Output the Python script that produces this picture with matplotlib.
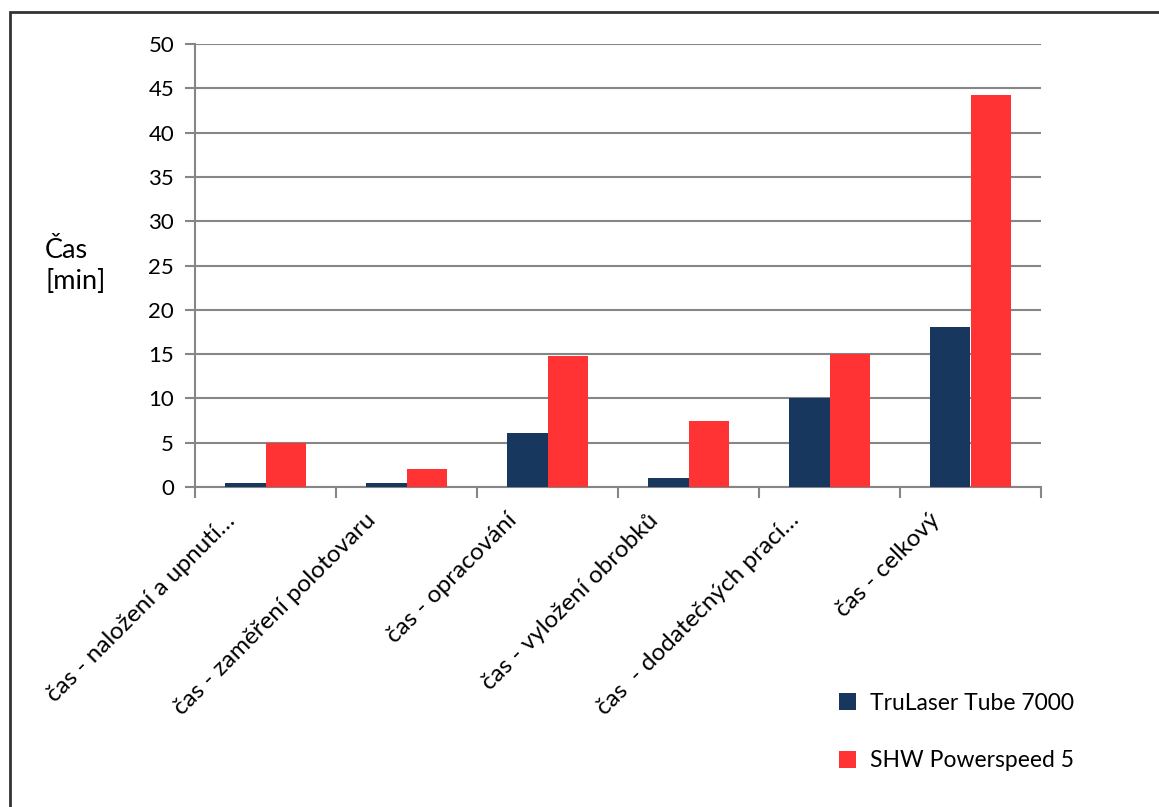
import numpy as np
import matplotlib.pyplot as plt
from matplotlib.patches import Rectangle

# ------  Data  -------------------------------------------------------------
categories = ['čas - naložení a upnutí…', 'čas - zaměření polotovaru', 'čas - opracování',
              'čas - vyložení obrobků', 'čas  - dodatečných prací…', 'čas - celkový']
trulaser = [0.5, 0.5, 6.1, 1.0, 10.0, 18.1]
shw = [5.0, 2.0, 14.8, 7.5, 15.0, 44.2]
series_names = ['TruLaser Tube 7000', 'SHW Powerspeed 5']
yticks = list(range(0, 55, 5))

plt.rcParams['font.family'] = ['Lato', 'DejaVu Sans']

fig = plt.figure(figsize=(11.59, 8.07), dpi=100)
ax = fig.add_axes([195 / 1159, 1 - 487 / 807, (1041 - 195) / 1159, (487 - 44) / 807])

x = np.arange(len(categories))
w = 0.284
ax.bar(x - w / 2, trulaser, w, color='#17375E', label=series_names[0], zorder=3)
ax.bar(x + w / 2, shw, w, color='#FF3333', label=series_names[1], zorder=3)

# -------  Axes styling  ------------------------------------------------------
ax.set_xlim(-0.5, len(categories) - 0.5)
ax.set_ylim(0, 50)
ax.set_yticks(yticks)
ax.set_yticklabels([str(v) for v in yticks], fontsize=16)
ax.yaxis.grid(True, color='#868686', linewidth=1.5, zorder=0)
ax.tick_params(axis='y', length=7, width=1.5, color='#868686', pad=8)

ax.set_xticks(np.arange(len(categories) + 1) - 0.5)
ax.set_xticklabels([])
ax.tick_params(axis='x', length=8, width=1.5, color='#868686')
for s in ['top', 'right']:
    ax.spines[s].set_visible(False)
for s in ['left', 'bottom']:
    ax.spines[s].set_color('#868686')
    ax.spines[s].set_linewidth(1.5)

for i, lab in enumerate(categories):
    ax.annotate(lab, xy=(i, 0), xycoords=('data', 'axes fraction'),
                xytext=(-34, -30), textcoords='offset pixels',
                rotation=45, rotation_mode='anchor', ha='right', va='center',
                fontsize=17.5)

fig.text(45 / 1159, 1 - 266 / 807, 'Čas\n[min]', ha='left', va='center',
         fontsize=19.5, linespacing=1.3)

ax.legend(loc='upper left', bbox_to_anchor=(818 / 1159, 1 - 672 / 807),
          bbox_transform=fig.transFigure, frameon=False, fontsize=16.5,
          handlelength=0.75, handleheight=0.75, handletextpad=0.6, labelspacing=1.6)

# outer chart border
fig.patches.append(Rectangle((10 / 1159, -0.1), 1.2, 1 - 12 / 807 + 0.1,
                             transform=fig.transFigure, fill=False,
                             edgecolor='#333333', linewidth=2))

fig.savefig('out.png', dpi=100)
